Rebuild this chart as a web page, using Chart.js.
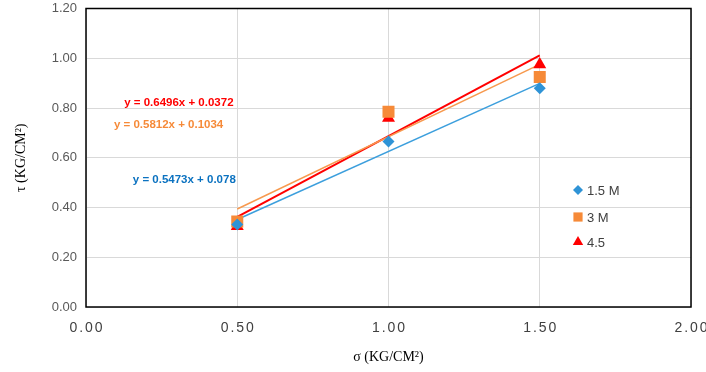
<!DOCTYPE html>
<html>
<head>
<meta charset="utf-8">
<script src="https://cdn.jsdelivr.net/npm/chart.js@4.4.1/dist/chart.umd.min.js"></script>
<style>
    html, body { margin: 0; padding: 0; background: #fff; }
    #wrap { width: 706px; height: 372px; }
</style>
</head>
<body>
<div id="wrap"><canvas id="shearChart" width="706" height="372"></canvas></div>
<script>
// normal stress (kg/cm2)
const sigma = [0.5, 1.0, 1.5];
// shear stress for each series
const tau15 = [0.332, 0.665, 0.879];
const tau3 = [0.344, 0.785, 0.925];
const tau45 = [0.325, 0.760, 0.975];

const seriesNames = ['1.5 M', '3 M', '4.5'];
// trendline coefficients as printed on the chart
const slopes = [0.5473, 0.5812, 0.6496];
const intercepts = [0.078, 0.1034, 0.0372];
const equations = ['y = 0.5473x + 0.078', 'y = 0.5812x + 0.1034', 'y = 0.6496x + 0.0372'];

const xTicks = [0, 0.5, 1.0, 1.5, 2.0];

const colors = {
    blue: '#2F93D6', blueLine: '#3C9FDD', blueText: '#0B72C0',
    orange: '#F68A38', orangeLine: '#F7994E',
    red: '#FF0000'
};

const pts = (ys) => sigma.map((x, i) => ({ x, y: ys[i] }));
const trend = (k) => [sigma[0], sigma[sigma.length - 1]].map(x => ({ x, y: slopes[k] * x + intercepts[k] }));

// where the equation labels sit, in data units
const eqPos = [
    { x: 0.325, y: 0.512, color: colors.blueText },
    { x: 0.273, y: 0.732, color: colors.orange },
    { x: 0.307, y: 0.822, color: colors.red }
];

const legendItems = [
    { style: 'rectRot', color: colors.blue, r: 5 },
    { style: 'rect', color: colors.orange, r: 6.5 },
    { style: 'triangle', color: colors.red, r: 6 }
];

const overlay = {
    id: 'overlay',
    beforeDatasetsDraw(chart) {
        const { ctx, chartArea: a } = chart;
        ctx.save();
        ctx.strokeStyle = '#000';
        ctx.lineWidth = 1.5;
        ctx.strokeRect(a.left, a.top, a.right - a.left, a.bottom - a.top);
        ctx.restore();
    },
    afterDraw(chart) {
        const { ctx, chartArea: a } = chart;
        const xs = chart.scales.x, ys = chart.scales.y;
        ctx.save();
        // x tick labels, spaced out
        ctx.font = '14px "Liberation Sans", Arial, sans-serif';
        ctx.fillStyle = '#404040';
        ctx.textAlign = 'center';
        ctx.textBaseline = 'middle';
        ctx.letterSpacing = '2px';
        xTicks.forEach(v => ctx.fillText(v.toFixed(2), xs.getPixelForValue(v) + 1, a.bottom + 21));
        ctx.letterSpacing = '0px';

        // trendline equations
        ctx.font = 'bold 11.5px "Liberation Sans", Arial, sans-serif';
        equations.forEach((t, i) => {
            ctx.fillStyle = eqPos[i].color;
            ctx.fillText(t, xs.getPixelForValue(eqPos[i].x), ys.getPixelForValue(eqPos[i].y));
        });

        // legend
        ctx.font = '13px "Liberation Sans", Arial, sans-serif';
        ctx.textAlign = 'left';
        const lx = 578, rows = [190, 217, 242];
        legendItems.forEach((it, i) => {
            ctx.fillStyle = it.color;
            ctx.strokeStyle = it.color;
            Chart.helpers.drawPoint(ctx, { pointStyle: it.style, radius: it.r, borderWidth: 0 }, lx, rows[i]);
            ctx.fillStyle = '#404040';
            ctx.fillText(seriesNames[i], lx + 9, rows[i] + 1);
        });
        ctx.restore();
    }
};

const pointSet = (label, ys, style, color, r) => ({
    label, data: pts(ys), pointStyle: style, pointRadius: r, pointHoverRadius: r,
    backgroundColor: color, borderColor: color, borderWidth: 0, showLine: false, order: 0
});
const lineSet = (k, color, w) => ({
    label: 'trend ' + seriesNames[k], data: trend(k), showLine: true, pointRadius: 0,
    borderColor: color, borderWidth: w, order: 1
});

new Chart(document.getElementById('shearChart'), {
    type: 'scatter',
    data: {
        datasets: [
            lineSet(0, colors.blueLine, 1.5),
            lineSet(1, colors.orangeLine, 1.5),
            lineSet(2, colors.red, 2),
            pointSet(seriesNames[0], tau15, 'rectRot', colors.blue, 6),
            pointSet(seriesNames[1], tau3, 'rect', colors.orange, 8.5),
            pointSet(seriesNames[2], tau45, 'triangle', colors.red, 7.5)
        ]
    },
    options: {
        responsive: false,
        animation: false,
        layout: { padding: { top: 7, right: 15, left: 0, bottom: 0 } },
        plugins: { legend: { display: false }, tooltip: { enabled: false } },
        scales: {
            x: {
                type: 'linear', min: 0, max: 2,
                ticks: { stepSize: 0.5, display: false },
                grid: { color: '#D9D9D9', lineWidth: 1, drawTicks: false },
                border: { display: false },
                title: {
                    display: true, text: 'σ (KG/CM²)', color: '#000',
                    font: { family: '"Liberation Serif", "Times New Roman", serif', size: 14 },
                    padding: { top: 0, bottom: 6 }
                },
                afterFit: (s) => { s.height = 65; s.paddingLeft = 0; s.paddingRight = 0; }
            },
            y: {
                min: 0, max: 1.2,
                ticks: {
                    stepSize: 0.2, color: '#595959', padding: 9,
                    font: { family: '"Liberation Sans", Arial, sans-serif', size: 13 },
                    callback: (v) => v.toFixed(2)
                },
                grid: { color: '#D9D9D9', lineWidth: 1, drawTicks: false },
                border: { display: false },
                title: {
                    display: true, text: 'τ (KG/CM²)', color: '#000',
                    font: { family: '"Liberation Serif", "Times New Roman", serif', size: 14 },
                    padding: { top: 13, bottom: 0 }
                },
                afterFit: (s) => { s.width = 86; s.paddingTop = 0; s.paddingBottom = 0; }
            }
        }
    },
    plugins: [overlay]
});
</script>
</body>
</html>
